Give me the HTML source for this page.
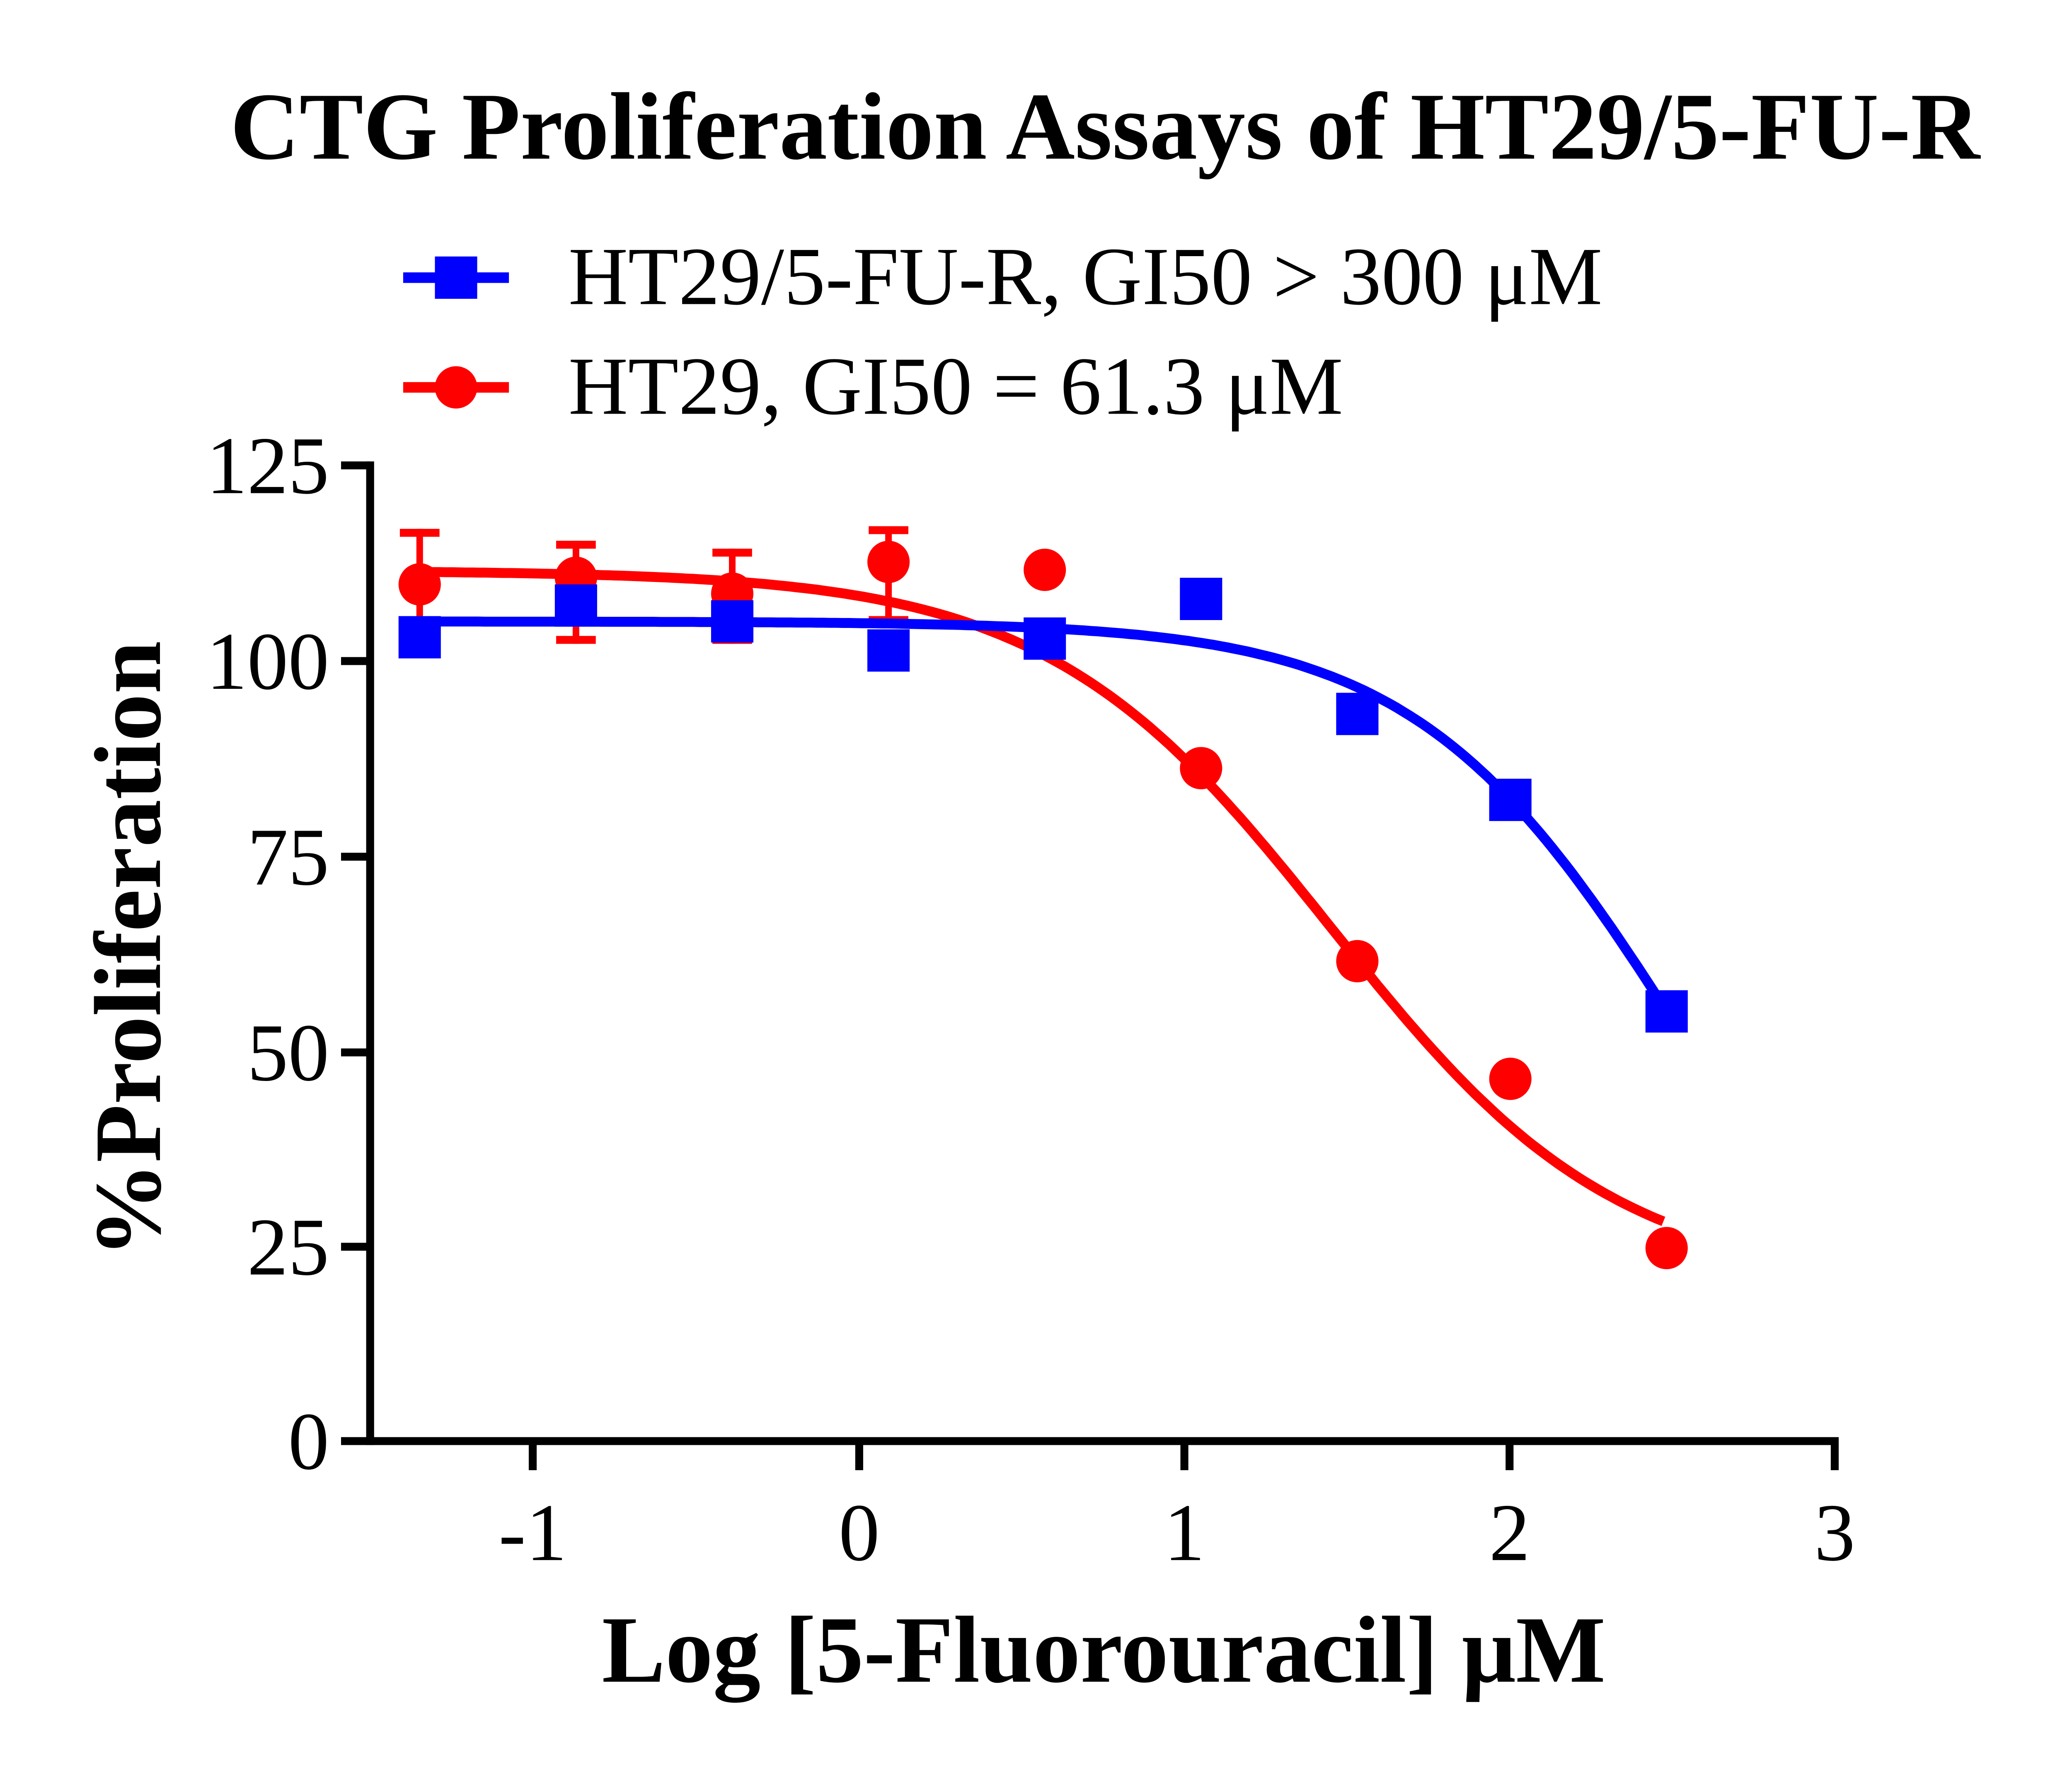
<!DOCTYPE html>
<html><head><meta charset="utf-8"><style>html,body{margin:0;padding:0;background:#fff}svg{display:block}</style></head>
<body>
<svg id="s" width="5008" height="4280" viewBox="0 0 1570 1341.8" xmlns="http://www.w3.org/2000/svg" font-family="'Liberation Serif', serif">
<rect width="1570" height="1342" fill="#fff"/>
<text x="836" y="120" font-size="72.5" font-weight="bold" text-anchor="middle">CTG Proliferation Assays of HT29/5-FU-R</text>
<line x1="305" y1="210" x2="385" y2="210" stroke="#00f" stroke-width="8"/>
<rect x="329" y="194" width="32" height="32" fill="#00f"/>
<text x="430" y="230" font-size="62.5">HT29/5-FU-R, GI50 &gt; 300 μM</text>
<line x1="305" y1="293" x2="385" y2="293" stroke="#f00" stroke-width="8"/>
<circle cx="345" cy="293" r="16" fill="#f00"/>
<text x="430" y="313" font-size="62.5">HT29, GI50 = 61.3 μM</text>
<g stroke="#000" stroke-width="6" fill="none">
<line x1="280" y1="349" x2="280" y2="1093"/>
<line x1="258" y1="1090" x2="1391" y2="1090"/>
<line x1="258" y1="352" x2="280" y2="352"/><line x1="258" y1="500" x2="280" y2="500"/><line x1="258" y1="648" x2="280" y2="648"/><line x1="258" y1="796" x2="280" y2="796"/><line x1="258" y1="943" x2="280" y2="943"/>
<line x1="403" y1="1090" x2="403" y2="1112"/><line x1="650" y1="1090" x2="650" y2="1112"/><line x1="896" y1="1090" x2="896" y2="1112"/><line x1="1142" y1="1090" x2="1142" y2="1112"/><line x1="1388" y1="1090" x2="1388" y2="1112"/>
</g>
<g font-size="62" text-anchor="end">
<text x="249" y="373">125</text><text x="249" y="521">100</text><text x="249" y="669">75</text><text x="249" y="817">50</text><text x="249" y="964">25</text><text x="249" y="1111">0</text>
</g>
<g font-size="62" text-anchor="middle">
<text x="403" y="1180">-1</text><text x="650" y="1180">0</text><text x="896" y="1180">1</text><text x="1142" y="1180">2</text><text x="1388" y="1180">3</text>
</g>
<text x="835" y="1272" font-size="72" font-weight="bold" text-anchor="middle">Log [5-Fluorouracil] μM</text>
<text transform="translate(121,718) rotate(-90)" font-size="72" font-weight="bold" text-anchor="middle">%Proliferation</text>
<g id="plot"></g>
</svg>
<script>
var g=document.getElementById('plot'),NS='http://www.w3.org/2000/svg';
function X(v){return 650+v*246.3}function Y(v){return 1090-v*5.904}
function el(t,a){var e=document.createElementNS(NS,t);for(var k in a)e.setAttribute(k,a[k]);g.appendChild(e);return e}
function curve(f,c){var d='';for(var x=-1.35;x<=2.481;x+=0.02){d+=(d?'L':'M')+X(x).toFixed(1)+','+Y(f(x)).toFixed(1)}el('path',{d:d,stroke:c,'stroke-width':7.5,fill:'none'})}
var xs=[-1.35,-0.87,-0.39,0.09,0.57,1.05,1.53,2.0,2.48];
var red=[442,437,449,425,431,581,727,816,944],blue=[482,458,470,492,483,453,540,605,765];
var eb=[[400,487],[409,487],[415,487],[398,472]];
eb.forEach(function(e,i){var x=X(xs[i]);el('line',{x1:x,y1:e[0],x2:x,y2:e[1],stroke:'#f00','stroke-width':5});
el('line',{x1:x-15,y1:e[0]+3,x2:x+15,y2:e[0]+3,stroke:'#f00','stroke-width':6});el('line',{x1:x-15,y1:e[1]-3,x2:x+15,y2:e[1]-3,stroke:'#f00','stroke-width':6});});
curve(function(x){return 20+91.5/(1+Math.pow(10,(x-1.45)*0.99))},'#f00');
curve(function(x){return 105/(1+Math.pow(10,(x-2.52)*1.07))},'#00f');
xs.forEach(function(x,i){el('circle',{cx:X(x),cy:red[i],r:16,fill:'#f00'})});
xs.forEach(function(x,i){el('rect',{x:X(x)-16,y:blue[i]-16,width:32,height:32,fill:'#00f'})});
</script>
</body></html>
